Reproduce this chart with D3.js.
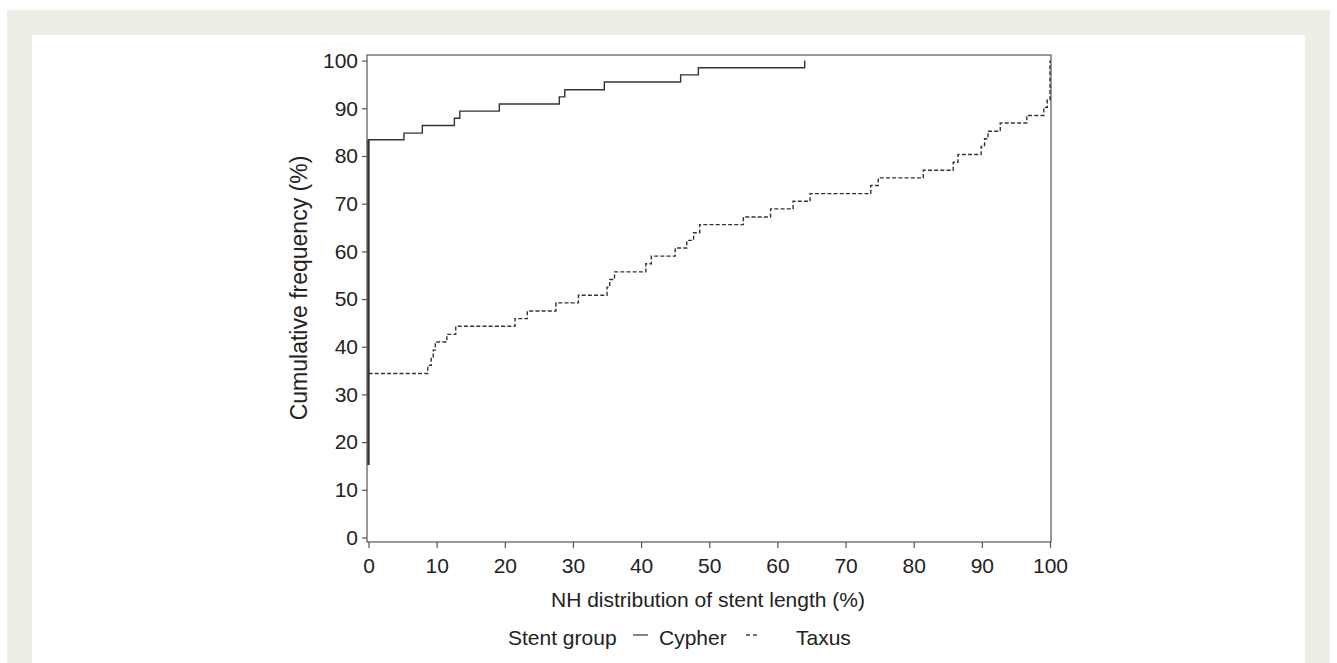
<!DOCTYPE html>
<html>
<head>
<meta charset="utf-8">
<script src="https://cdn.jsdelivr.net/npm/d3@7"></script>
<style>
  body { margin: 0; background: #fff; }
  svg { display: block; font-family: "Liberation Sans", Arial, sans-serif; }
</style>
</head>
<body>
<div id="chart"></div>
<script>
// cumulative frequency curves
var cypherX = [0, 0, 5.2, 7.9, 12.6, 13.4, 19.2, 28.0, 28.8, 34.6, 45.8, 48.4, 64.0, 64.0];
var cypherY = [15.2, 83.4, 84.8, 86.4, 87.9, 89.4, 90.9, 92.4, 93.9, 95.5, 97.0, 98.5, 98.5, 100];

var taxusX = [0, 8.7, 9.2, 9.5, 9.8, 11.5, 12.8, 21.5, 23.3, 27.5, 30.8, 35.0, 35.4, 36.1, 40.7, 41.5,
              45.0, 46.7, 47.7, 48.6, 55.0, 59.0, 62.3, 64.8, 73.7, 74.8, 81.4, 85.8, 86.5, 89.9, 90.4,
              90.9, 92.7, 96.6, 99.1, 99.6, 100, 100];
var taxusY = [34.4, 36.1, 37.7, 39.3, 41.0, 42.6, 44.3, 45.9, 47.5, 49.2, 50.8, 52.5, 54.1, 55.7, 57.4, 59.0,
              60.7, 62.3, 63.9, 65.6, 67.2, 68.9, 70.5, 72.1, 73.8, 75.4, 77.0, 78.7, 80.3, 82.0, 83.6,
              85.2, 86.9, 88.5, 90.2, 91.8, 93.4, 100];

var xTicks = [0, 10, 20, 30, 40, 50, 60, 70, 80, 90, 100];
var yTicks = [0, 10, 20, 30, 40, 50, 60, 70, 80, 90, 100];

var width = 1337, height = 663;
var ink = "#222";
var fs = 21;

var svg = d3.select("#chart").append("svg")
  .attr("width", width)
  .attr("height", height);

// beige frame and white panel
svg.append("rect").attr("x", 7).attr("y", 10).attr("width", 1323).attr("height", 660).attr("fill", "#efeee5");
svg.append("rect").attr("x", 32).attr("y", 35).attr("width", 1273).attr("height", 640).attr("fill", "#fff");

var x = d3.scaleLinear().domain([0, 100]).range([368.5, 1050]);
var y = d3.scaleLinear().domain([0, 100]).range([537.5, 60.6]);

// plot box
var boxLeft = 367, boxRight = 1051, boxTop = 55, boxBottom = 542;
svg.append("rect")
  .attr("x", boxLeft).attr("y", boxTop)
  .attr("width", boxRight - boxLeft).attr("height", boxBottom - boxTop)
  .attr("fill", "none").attr("stroke", "#555").attr("stroke-width", 1.2);

// x axis
var xAxis = svg.append("g")
  .attr("transform", "translate(0," + boxBottom + ")")
  .call(d3.axisBottom(x).tickValues(xTicks).tickSize(6).tickPadding(10));
xAxis.select(".domain").remove();
xAxis.selectAll("line").attr("stroke", "#555").attr("stroke-width", 1.2);
xAxis.selectAll("text").attr("font-size", fs).attr("fill", ink).attr("font-family", "Liberation Sans, Arial, sans-serif");

// y axis
var yAxis = svg.append("g")
  .attr("transform", "translate(" + boxLeft + ",0)")
  .call(d3.axisLeft(y).tickValues(yTicks).tickSize(5).tickPadding(4));
yAxis.select(".domain").remove();
yAxis.selectAll("line").attr("stroke", "#555").attr("stroke-width", 1.2);
yAxis.selectAll("text").attr("font-size", fs).attr("fill", ink).attr("font-family", "Liberation Sans, Arial, sans-serif");

// axis titles
svg.append("text")
  .attr("x", 708).attr("y", 607)
  .attr("text-anchor", "middle")
  .attr("font-size", fs).attr("fill", ink)
  .text("NH distribution of stent length (%)");

svg.append("text")
  .attr("transform", "translate(307,288) rotate(-90)")
  .attr("text-anchor", "middle")
  .attr("font-size", 23).attr("fill", ink)
  .text("Cumulative frequency (%)");

// step lines
var line = d3.line()
  .x(function(d) { return x(d[0]); })
  .y(function(d) { return y(d[1]); })
  .curve(d3.curveStepAfter);

var taxus = d3.zip(taxusX, taxusY);
var cypher = d3.zip(cypherX, cypherY);

svg.append("path")
  .datum(taxus)
  .attr("d", line)
  .attr("fill", "none")
  .attr("stroke", "#333")
  .attr("stroke-width", 1.4)
  .attr("stroke-dasharray", "4,2.2");

svg.append("path")
  .datum(cypher)
  .attr("d", line)
  .attr("fill", "none")
  .attr("stroke", "#333")
  .attr("stroke-width", 1.4);

// thicker overlap at x = 0
svg.append("line")
  .attr("x1", x(0)).attr("x2", x(0))
  .attr("y1", y(cypherY[0])).attr("y2", y(cypherY[1]))
  .attr("stroke", "#333").attr("stroke-width", 2.2);

// legend
var leg = svg.append("g").attr("font-size", fs).attr("fill", ink);
leg.append("text").attr("x", 508).attr("y", 645).text("Stent group");
leg.append("line").attr("x1", 633).attr("x2", 648).attr("y1", 635).attr("y2", 635)
  .attr("stroke", "#444").attr("stroke-width", 1.3);
leg.append("text").attr("x", 659).attr("y", 645).text("Cypher");
leg.append("line").attr("x1", 746).attr("x2", 757).attr("y1", 635).attr("y2", 635)
  .attr("stroke", "#444").attr("stroke-width", 1.3).attr("stroke-dasharray", "4,3");
leg.append("text").attr("x", 796).attr("y", 645).text("Taxus");
</script>
</body>
</html>
